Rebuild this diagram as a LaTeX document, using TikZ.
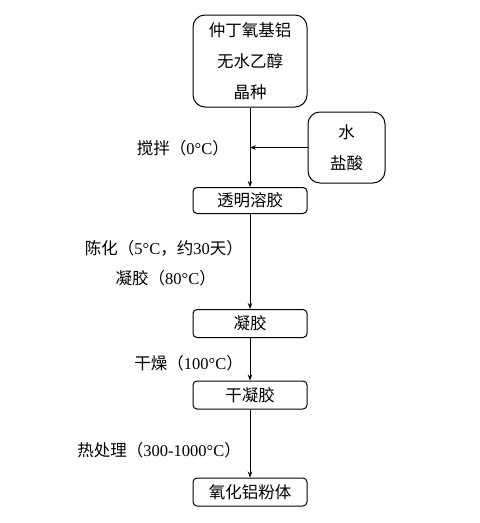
\documentclass[tikz,border=0pt]{standalone}
\usepackage{fontspec}
\setmainfont{Liberation Serif}
\newfontfamily\cjk{Noto Sans CJK SC}
\usetikzlibrary{arrows.meta}

\tikzset{
    stage/.style={draw, rounded corners=4pt, line width=1pt, minimum width=114pt,
        minimum height=28pt, inner sep=0pt, font=\fontsize{16.5}{31}\selectfont\cjk},
    feed/.style={stage, rounded corners=12pt, align=center},
    cond/.style={anchor=east, inner sep=0pt, font=\fontsize{16.5}{20}\selectfont},
    flow/.style={line width=1pt, -{Stealth[length=6pt,width=4.5pt]}}
}

\begin{document}
\begin{tikzpicture}[x=1pt, y=-1pt]
    \useasboundingbox (0,0) rectangle (480,523);

    \node (raw) [feed, minimum width=114pt, minimum height=92pt] at (250,61)
        {仲丁氧基铝\\无水乙醇\\晶种};
    \node (acid) [feed, minimum width=77pt, minimum height=71pt] at (346.5,147.5)
        {水\\盐酸};

    \node (sol) [stage, minimum height=26pt] at (250,200.5) {透明溶胶};
    \node (gel) [stage] at (250,323.5) {凝胶};
    \node (xgel) [stage] at (250,395) {干凝胶};
    \node (powder) [stage] at (250,492) {氧化铝粉体};

    \coordinate (mix) at (acid.west -| raw.south);

    \draw[flow] (raw) -- (sol);
    \draw[flow] (acid.west) -- (mix);
    \draw[flow] (sol) -- (gel);
    \draw[flow] (gel) -- (xgel);
    \draw[flow] (xgel) -- (powder);

    \node (stir) [cond] at (229,148) {{\cjk 搅拌（}0°C{\cjk ）}};
    \node (age) [cond] at (243,248) {{\cjk 陈化（}5°C{\cjk ，约}30{\cjk 天）}};
    \node (gelling) [cond] at (216,278) {{\cjk 凝胶（}80°C{\cjk ）}};
    \node (dry) [cond] at (243,363) {{\cjk 干燥（}100°C{\cjk ）}};
    \node (heat) [cond] at (241,450) {{\cjk 热处理（}300-1000°C{\cjk ）}};
\end{tikzpicture}
\end{document}
